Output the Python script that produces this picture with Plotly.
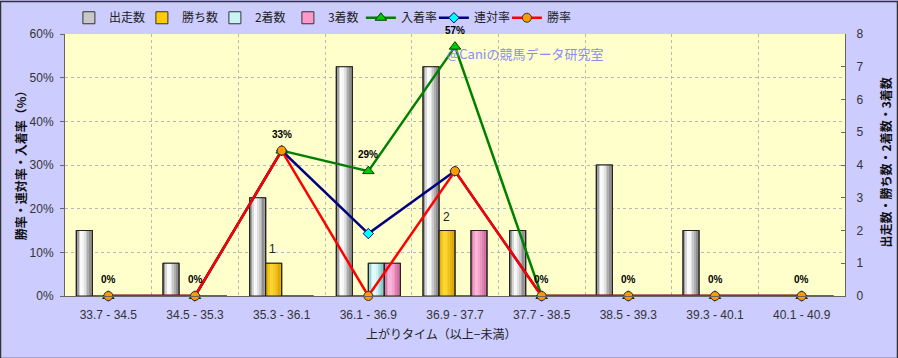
import plotly.graph_objects as go

categories = ["33.7 - 34.5", "34.5 - 35.3", "35.3 - 36.1", "36.1 - 36.9", "36.9 - 37.7",
              "37.7 - 38.5", "38.5 - 39.3", "39.3 - 40.1", "40.1 - 40.9"]
runs = [2, 1, 3, 7, 7, 2, 4, 2, 0]
wins = [0, 0, 1, 0, 2, 0, 0, 0, 0]
seconds = [0, 0, 0, 1, 0, 0, 0, 0, 0]
thirds = [0, 0, 0, 1, 2, 0, 0, 0, 0]
place_rate = [0, 0, 33.3, 28.6, 57.1, 0, 0, 0, 0]
quinella_rate = [0, 0, 33.3, 14.3, 28.6, 0, 0, 0, 0]
win_rate = [0, 0, 33.3, 0, 28.6, 0, 0, 0, 0]
rate_labels = ["0%", "0%", "33%", "29%", "57%", "0%", "0%", "0%", "0%"]

JP = "Noto Sans CJK JP"
NUM = "Liberation Sans, Arial, sans-serif"

fig = go.Figure()

bar_series = [
    ("出走数", runs, "#c8c8c8", "#808080", "#ffffff"),
    ("勝ち数", wins, "#ffcc00", "#d9a200", "#ffd833"),
    ("2着数", seconds, "#c8f4f4", "#7fc4c4", "#e8ffff"),
    ("3着数", thirds, "#ff99cc", "#cc6699", "#ffb8dc"),
]

W = 0.1845
N = 8
E = 0.012


def hex2rgb(h):
    h = h.lstrip("#")
    return [int(h[i:i + 2], 16) for i in (0, 2, 4)]


def mix(c1, c2, m):
    a, b = hex2rgb(c1), hex2rgb(c2)
    return "rgb(%d,%d,%d)" % tuple(round(a[i] + (b[i] - a[i]) * m) for i in range(3))


for si, (name, vals, base, edge, hi) in enumerate(bar_series):
    off = -2 * W + si * W
    lw = [1.2 if v > 0 else 0 for v in vals]
    fig.add_trace(go.Bar(x=categories, y=vals, name=name, offset=off, width=W,
                         marker=dict(color=base, line=dict(color="#333333", width=1)),
                         yaxis="y", hoverinfo="skip"))
    sw = (W - 2 * E) / N
    for k in range(N):
        t = (k + 0.5) / N
        if t <= 0.35:
            m = 1 - ((0.35 - t) / 0.35) ** 1.5
        else:
            m = 1 - ((t - 0.35) / 0.65) ** 1.3
        fig.add_trace(go.Bar(x=categories, y=vals, offset=off + E + k * sw, width=sw * 1.05,
                             marker=dict(color=mix(edge, hi, m), line=dict(width=0)),
                             showlegend=False, yaxis="y", hoverinfo="skip"))
    fig.add_trace(go.Bar(x=categories, y=vals, offset=off, width=W,
                         marker=dict(color="rgba(0,0,0,0)",
                                     line=dict(color="#222222", width=lw)),
                         showlegend=False, yaxis="y", hoverinfo="skip"))

fig.add_trace(go.Scatter(x=categories, y=place_rate, name="入着率", mode="lines+markers",
                         line=dict(color="#008000", width=2.5),
                         marker=dict(symbol="triangle-up", size=10, color="#00cc00",
                                     line=dict(color="#004000", width=1)),
                         yaxis="y2", cliponaxis=False))
fig.add_trace(go.Scatter(x=categories, y=quinella_rate, name="連対率", mode="lines+markers",
                         line=dict(color="#000080", width=2.5),
                         marker=dict(symbol="diamond", size=8, color="#00ffff",
                                     line=dict(color="#000080", width=1)),
                         yaxis="y2", cliponaxis=False))
fig.add_trace(go.Scatter(x=categories, y=win_rate, name="勝率", mode="lines+markers",
                         line=dict(color="#ff0000", width=2.5),
                         marker=dict(symbol="circle", size=9, color="#ff9900",
                                     line=dict(color="#333333", width=1)),
                         yaxis="y2", cliponaxis=False))

annotations = []
for c, v, lab in zip(categories, place_rate, rate_labels):
    annotations.append(dict(x=c, y=v, xref="x", yref="y2", text="<b>%s</b>" % lab,
                            showarrow=False, yanchor="bottom", yshift=9,
                            font=dict(family=NUM, size=10, color="#000000")))
for c, v in zip(categories, wins):
    if v > 0:
        annotations.append(dict(x=c, y=v, xref="x", yref="y", text=str(v),
                                showarrow=False, yanchor="bottom", yshift=5, xshift=-9,
                                font=dict(family=NUM, size=12, color="#222222")))

annotations += [
    dict(x=0.487, y=0.927, xref="paper", yref="paper", text="@Caniの競馬データ研究室",
         showarrow=False, xanchor="left", yanchor="middle",
         font=dict(family=JP, size=13, color="#8c8cf0")),
    dict(x=-0.0577, y=0.51, xref="paper", yref="paper", text="<b>勝率・連対率・入着率（%）</b>",
         showarrow=False, textangle=-90, xanchor="center", yanchor="middle",
         font=dict(family=JP, size=12, color="#111111")),
    dict(x=1.0513, y=0.51, xref="paper", yref="paper", text="<b>出走数・勝ち数・2着数・3着数</b>",
         showarrow=False, textangle=-90, xanchor="center", yanchor="middle",
         font=dict(family=JP, size=12, color="#111111")),
    dict(x=0.482, y=-0.145, xref="paper", yref="paper", text="上がりタイム（以上−未満）",
         showarrow=False, xanchor="center", yanchor="middle",
         font=dict(family=JP, size=12, color="#222222")),
]

fig.update_layout(
    width=898, height=358,
    margin=dict(l=65, r=53, t=34, b=62, autoexpand=False),
    paper_bgcolor="#ccccff",
    plot_bgcolor="#ffffcc",
    barmode="overlay",
    showlegend=True,
    legend=dict(orientation="h", x=0.005, y=1.062, xanchor="left", yanchor="middle",
                font=dict(family=JP, size=12, color="#222222"),
                bgcolor="rgba(0,0,0,0)", entrywidth=28, itemwidth=30, traceorder="normal"),
    xaxis=dict(type="category", range=[-0.5, 8.5], tickson="boundaries",
               showgrid=True, gridcolor="#b8b8b8", griddash="dot", gridwidth=1,
               showline=True, linecolor="#666666", ticks="", ticklabelstandoff=8,
               tickfont=dict(family=NUM, size=12, color="#333333")),
    yaxis=dict(side="right", range=[0, 8], dtick=1, showgrid=False, zeroline=False,
               showline=True, linecolor="#666666", ticks="inside", ticklen=4,
               tickcolor="#666666", ticklabelstandoff=8,
               tickfont=dict(family=NUM, size=12, color="#333333")),
    yaxis2=dict(overlaying="y", side="left", range=[0, 60], dtick=10, ticksuffix="%",
                showgrid=True, gridcolor="#b8b8b8", griddash="dot", zeroline=False,
                showline=True, linecolor="#666666", ticks="outside", ticklen=4,
                tickcolor="#666666", ticklabelstandoff=4,
                tickfont=dict(family=NUM, size=12, color="#333333")),
    annotations=annotations,
    shapes=[dict(type="rect", xref="paper", yref="paper",
                 x0=-0.0827, x1=1.0673, y0=-0.2385, y1=1.1240,
                 line=dict(color="#333333", width=1.5), fillcolor="rgba(0,0,0,0)")],
)

fig.write_html("out.html")
